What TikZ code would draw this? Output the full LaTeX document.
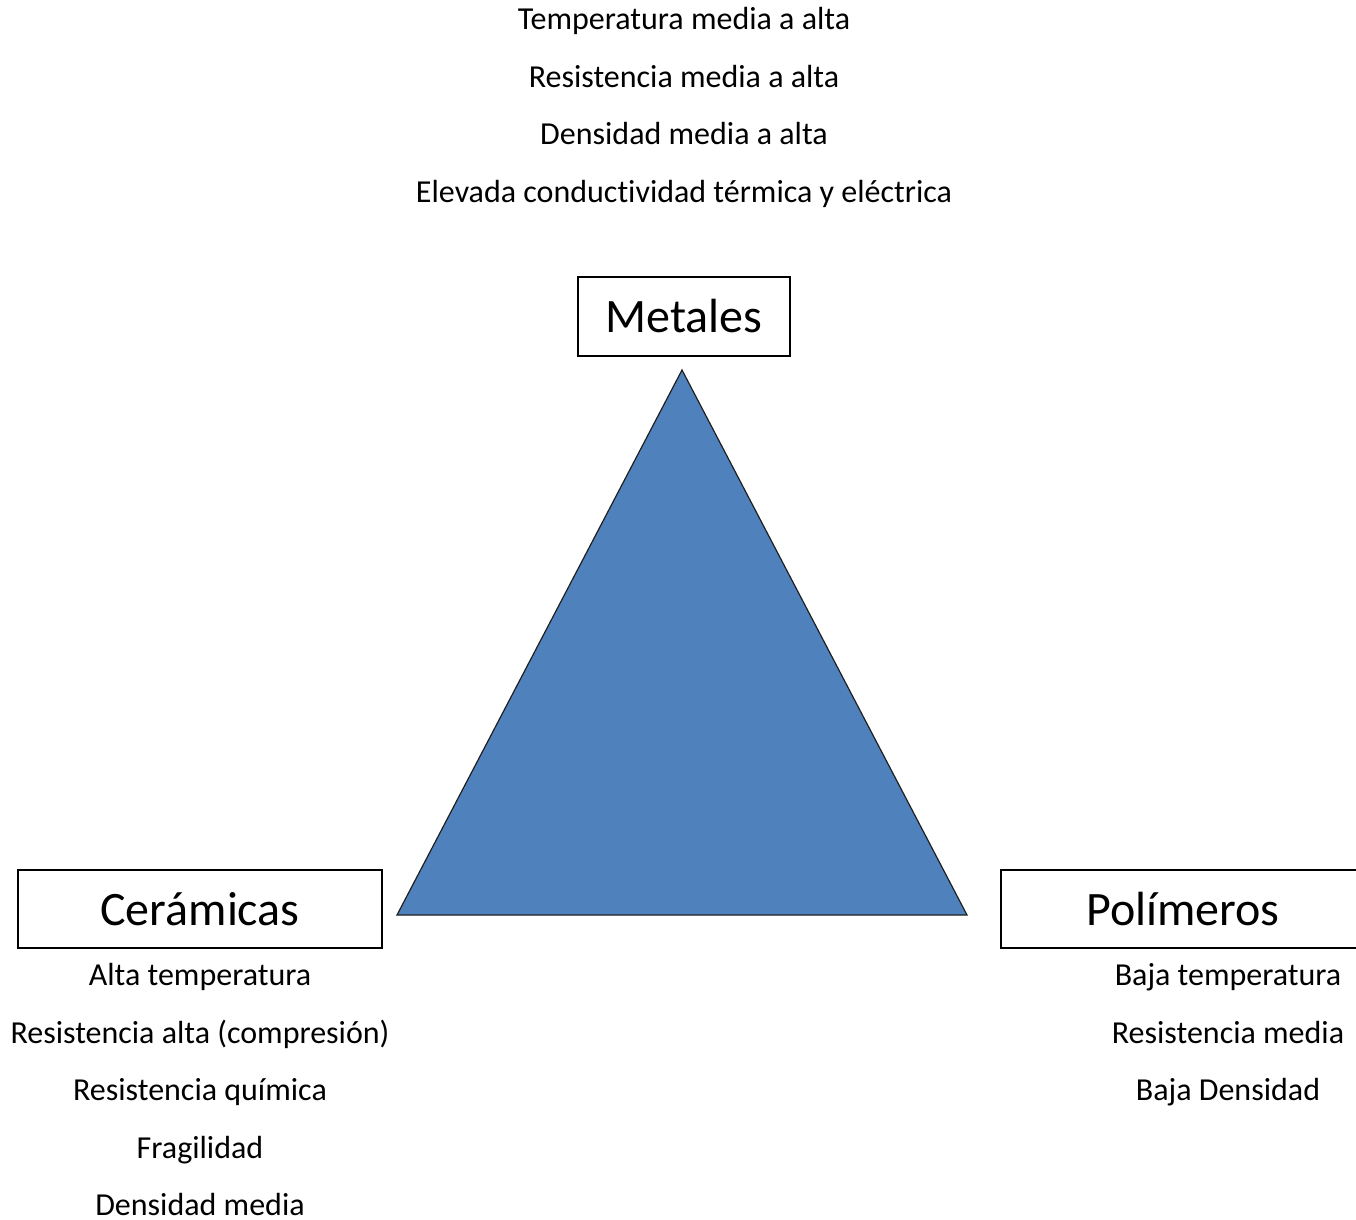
\documentclass[tikz,border=0pt]{standalone}
\usepackage{fontspec}
\setmainfont[Ligatures=NoCommon]{Carlito}
\definecolor{triblue}{HTML}{4F81BD}
\definecolor{triedge}{HTML}{1F1F1F}
\begin{document}
\begin{tikzpicture}[x=1pt,y=-1pt,
  small/.style={font=\fontsize{32}{32}\selectfont, anchor=base, inner sep=0pt},
  big/.style={font=\fontsize{48}{48}\selectfont, anchor=center, inner sep=0pt},
  boxl/.style={draw=black, line width=1.3pt}]
\useasboundingbox (0,0) rectangle (1356,1219);
\clip (0,0) rectangle (1356,1219);
% top texts
\node[small] (t1) at (684,29) {Temperatura media a alta};
\node[small] (t2) at (684,87) {Resistencia media a alta};
\node[small] (t3) at (684,144) {Densidad media a alta};
\node[small] (t4) at (684,202) {Elevada conductividad térmica y eléctrica};
% boxes
\draw[boxl] (578,277) rectangle (790,356);
\node[big] (met) at (684,316.5) {Metales};
\draw[boxl] (18,870) rectangle (382,948);
\node[big] (cer) at (200,909) {Cerámicas};
\draw[boxl] (1001,870) rectangle (1370,948);
\node[big] (pol) at (1183,909) {Polímeros};
% triangle
\coordinate (A) at (682,370);
\coordinate (B) at (397,915);
\coordinate (C) at (967,915);
\filldraw[fill=triblue, draw=triedge, line width=1.2pt, line join=miter] (A) -- (B) -- (C) -- cycle;
% left texts
\node[small] (l1) at (200,985) {Alta temperatura};
\node[small] (l2) at (200,1043) {Resistencia alta (compresión)};
\node[small] (l3) at (200,1100) {Resistencia química};
\node[small] (l4) at (200,1158) {Fragilidad};
\node[small, text depth=0pt] (l5) at (200,1215) {Densidad media};
% right texts
\node[small] (r1) at (1228,985) {Baja temperatura};
\node[small] (r2) at (1228,1043) {Resistencia media};
\node[small] (r3) at (1228,1100) {Baja Densidad};
\end{tikzpicture}
\end{document}
